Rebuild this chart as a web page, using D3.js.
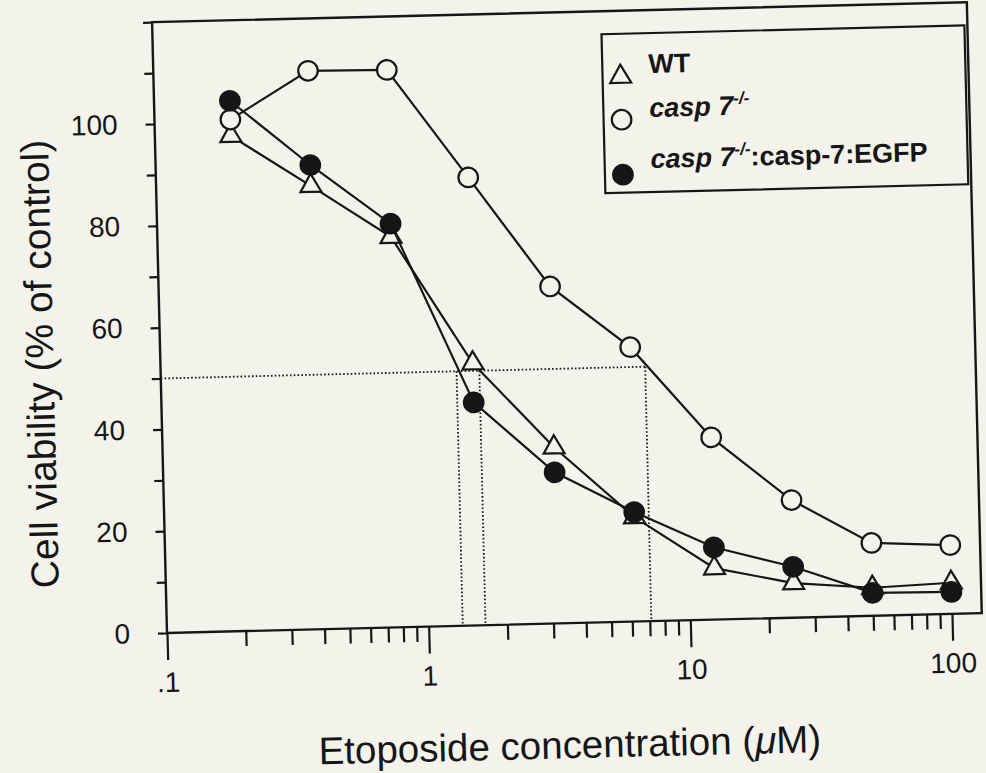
<!DOCTYPE html>
<html>
<head>
<meta charset="utf-8">
<script src="https://cdn.jsdelivr.net/npm/d3@7"></script>
<style>
  html, body { margin: 0; padding: 0; background: #f3f3eb; }
  svg { display: block; }
  text { font-family: "Liberation Sans", Arial, Helvetica, sans-serif; fill: #161616; }
</style>
</head>
<body>
<div id="chart"></div>
<script>
// etoposide dose (uM), two-fold dilutions
const concentrations = [0.195, 0.39, 0.78, 1.56, 3.13, 6.25, 12.5, 25, 50, 100];

// cell viability, % of control
const wtValues = [97.3, 87.1, 76.7, 51.5, 34.6, 20.5, 10.1, 6.8, 5.5, 6.1];
const koValues = [100.5, 109.7, 109.5, 88.0, 66.2, 53.9, 35.8, 23.1, 14.3, 13.5];
const rescueValues = [104.2, 91.2, 79.3, 43.8, 29.7, 21.5, 14.2, 10.0, 4.5, 4.3];

// dotted IC50 guides
const halfViability = 50;
const ic50Values = [1.35, 1.65, 7.1];

const yTickValues = [0, 10, 20, 30, 40, 50, 60, 70, 80, 90, 100, 110, 120];
const yLabelValues = [0, 20, 40, 60, 80, 100];
const xMajorValues = [0.1, 1, 10, 100];
const xMajorLabels = [".1", "1", "10", "100"];

const width = 986, height = 773;
const ink = "#161616";
const paper = "#f3f3eb";

const svg = d3.select("#chart")
  .append("svg")
  .attr("width", width)
  .attr("height", height);

svg.append("rect").attr("width", width).attr("height", height).attr("fill", paper);

// the scanned figure is a little tilted
const g = svg.append("g").attr("transform", "rotate(-1.4 167 633)");

const x = d3.scaleLog().domain([0.1, 130]).range([167, 982]);
const y = d3.scaleLinear().domain([0, 120]).range([633, 22]);

// frame
g.append("rect")
  .attr("x", x(0.1))
  .attr("y", y(120))
  .attr("width", x(130) - x(0.1))
  .attr("height", y(0) - y(120))
  .attr("fill", "none")
  .attr("stroke", ink)
  .attr("stroke-width", 2.4);

// x axis: minor then major ticks
const minorTicks = x.ticks().filter((v) => !xMajorValues.some((m) => Math.abs(m - v) < 1e-9));
g.append("g")
  .attr("transform", `translate(0,${y(0)})`)
  .call(d3.axisBottom(x).tickValues(minorTicks).tickSize(15).tickFormat(""))
  .call((a) => a.select(".domain").remove());

g.append("g")
  .attr("transform", `translate(0,${y(0)})`)
  .call(
    d3.axisBottom(x)
      .tickValues(xMajorValues)
      .tickSize(27)
      .tickPadding(12)
      .tickFormat((d, i) => xMajorLabels[i])
  )
  .call((a) => a.select(".domain").remove());

// y axis
g.append("g")
  .attr("transform", `translate(${x(0.1)},0)`)
  .call(
    d3.axisLeft(y)
      .tickValues(yTickValues)
      .tickSize(9)
      .tickPadding(28)
      .tickFormat((d) => (yLabelValues.includes(d) ? d : ""))
  )
  .call((a) => a.select(".domain").remove());

g.selectAll(".tick line").attr("stroke", ink).attr("stroke-width", 2.2);
g.selectAll(".tick text")
  .attr("fill", ink)
  .style("font-size", "28px")
  .style("font-family", '"Liberation Sans", Arial, sans-serif');

// dotted guides
const dotted = g.append("g")
  .attr("fill", "none")
  .attr("stroke", ink)
  .attr("stroke-width", 1.8)
  .attr("stroke-dasharray", "1.6,2.2");

dotted.append("line")
  .attr("x1", x(0.1))
  .attr("x2", x(d3.max(ic50Values)))
  .attr("y1", y(halfViability))
  .attr("y2", y(halfViability));

dotted.selectAll("line.v")
  .data(ic50Values)
  .enter()
  .append("line")
  .attr("class", "v")
  .attr("x1", (d) => x(d))
  .attr("x2", (d) => x(d))
  .attr("y1", y(halfViability))
  .attr("y2", y(0));

// series, drawn WT first so the circles sit on top
const series = [
  { name: "WT", values: wtValues, shape: "triangle", fill: paper },
  { name: "ko", values: koValues, shape: "circle", fill: paper },
  { name: "rescue", values: rescueValues, shape: "circle", fill: ink },
];

const line = d3.line()
  .x((d) => x(d[0]))
  .y((d) => y(d[1]));

function symbolPath(shape) {
  if (shape === "triangle") return d3.symbol().type(d3.symbolTriangle).size(190)();
  return d3.symbol().type(d3.symbolCircle).size(300)();
}

series.forEach((s) => {
  const pts = concentrations.map((c, i) => [c, s.values[i]]);

  g.append("path")
    .datum(pts)
    .attr("d", line)
    .attr("fill", "none")
    .attr("stroke", ink)
    .attr("stroke-width", 2.2);

  g.selectAll(null)
    .data(pts)
    .enter()
    .append("path")
    .attr("d", symbolPath(s.shape))
    .attr("transform", (d) => `translate(${x(d[0])},${y(d[1])})`)
    .attr("fill", s.fill)
    .attr("stroke", ink)
    .attr("stroke-width", 2.2);
});

// legend
const legendRight = x(130) - 3;
const legend = g.append("g");
legend.append("rect")
  .attr("x", 616)
  .attr("y", 45)
  .attr("width", legendRight - 616)
  .attr("height", 159)
  .attr("fill", "none")
  .attr("stroke", ink)
  .attr("stroke-width", 2.2);

const legendRows = [
  { shape: "triangle", fill: paper, my: 88 },
  { shape: "circle", fill: paper, my: 131 },
  { shape: "circle", fill: ink, my: 186 },
];

legendRows.forEach((r) => {
  legend.append("path")
    .attr("d", symbolPath(r.shape))
    .attr("transform", `translate(634,${r.my})`)
    .attr("fill", r.fill)
    .attr("stroke", ink)
    .attr("stroke-width", 2.2);
});

const lt = (yy) => legend.append("text")
  .attr("x", 662)
  .attr("y", yy)
  .style("font-size", "27px")
  .style("font-weight", "bold");

lt(85).text("WT");

const t2 = lt(129);
t2.append("tspan").style("font-style", "italic").text("casp 7");
t2.append("tspan").style("font-style", "italic").style("font-size", "17px").attr("dy", -11).text("-/-");

const t3 = lt(180);
t3.append("tspan").style("font-style", "italic").text("casp 7");
t3.append("tspan").style("font-style", "italic").style("font-size", "17px").attr("dy", -11).text("-/-");
t3.append("tspan").attr("dy", 11).text(":casp-7:EGFP");

// axis titles
const xt = g.append("text")
  .attr("x", 567)
  .attr("y", 768)
  .attr("text-anchor", "middle")
  .style("font-size", "38.5px");
xt.append("tspan").text("Etoposide concentration (");
xt.append("tspan").style("font-style", "italic").text("\u03bc");
xt.append("tspan").text("M)");

g.append("text")
  .attr("transform", "translate(60,361) rotate(-90)")
  .attr("text-anchor", "middle")
  .style("font-size", "39px")
  .text("Cell viability (% of control)");
</script>
</body>
</html>
